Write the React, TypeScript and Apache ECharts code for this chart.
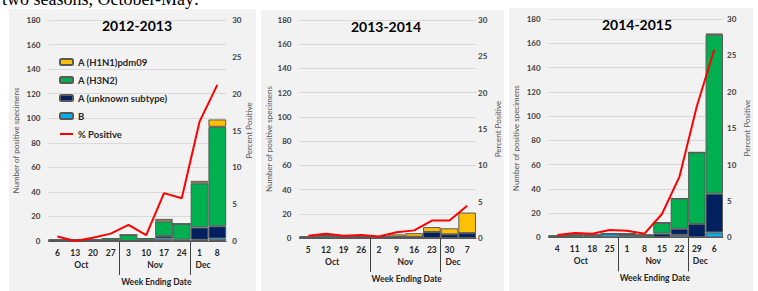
import React, { useEffect, useRef } from "react";
import * as echarts from "echarts";

const seasons = ["2012-2013", "2013-2014", "2014-2015"];
const weeks1 = ["6", "13", "20", "27", "3", "10", "17", "24", "1", "8"];
const weeks2 = ["5", "12", "19", "26", "2", "9", "16", "23", "30", "7"];
const weeks3 = ["4", "11", "18", "25", "1", "8", "15", "22", "29", "6"];

// stacked order bottom -> top
const stackNames = ["B", "A (unknown subtype)", "A (H3N2)", "A (H1N1)pdm09"];
const stackColors = ["#00B0F0", "#002060", "#00B050", "#FFC000"];
const legendOrder = ["A (H1N1)pdm09", "A (H3N2)", "A (unknown subtype)", "B", "% Positive"];

const b1 = [0, 0, 0, 0, 0, 0, 2, 0, 1, 2];
const unk1 = [0, 0, 0, 0, 0, 0, 2, 1, 10, 10];
const h3n2_1 = [1, 1, 1, 2, 5, 2, 12, 13, 36, 81];
const h1n1_1 = [0, 0, 0, 0, 0, 0, 2, 0, 2, 6];
const pct1 = [0.6, 0, 0.45, 1.0, 2.2, 0.8, 6.5, 5.8, 16.2, 21.2];

const b2 = [0, 0, 0, 0, 0, 0, 0, 0, 0, 0];
const unk2 = [0, 0, 0, 0, 1, 1, 1, 5, 3, 4];
const h3n2_2 = [1, 2, 1, 1, 0, 0, 0, 0, 0, 0];
const h1n1_2 = [0, 0, 0, 0, 0, 2, 3, 4, 5, 17];
const pct2 = [0.3, 0.6, 0.3, 0.4, 0.2, 0.8, 1.05, 2.4, 2.4, 4.45];

const b3 = [0, 0, 0, 3, 2, 0, 0, 2, 0, 4];
const unk3 = [1, 0, 0, 0, 0, 0, 3, 5, 11, 32];
const h3n2_3 = [0, 2, 2, 0, 1, 2, 9, 25, 59, 131];
const h1n1_3 = [0, 0, 0, 0, 0, 0, 0, 0, 0, 1];
const pct3 = [0.3, 0.6, 0.5, 1.0, 0.9, 0.5, 3.2, 8.3, 18, 25.8];

const monthLabels = ["Oct", "Nov", "Dec"];
const monthLabelPos = [1.85, 6, 8.7];
const monthBreaks = [4, 8];

const weeks = [weeks1, weeks2, weeks3];
const stacks = [
  [b1, unk1, h3n2_1, h1n1_1],
  [b2, unk2, h3n2_2, h1n1_2],
  [b3, unk3, h3n2_3, h1n1_3],
];
const pcts = [pct1, pct2, pct3];

// layout
const panels = [
  { x: 9, y: 9, w: 247, h: 282 },
  { x: 261, y: 10, w: 243, h: 281 },
  { x: 509, y: 8, w: 244, h: 283 },
];
const grids = [
  { left: 48.5, top: 20, width: 177.7, height: 221 },
  { left: 299.5, top: 20, width: 176.5, height: 218 },
  { left: 548.6, top: 19, width: 174.4, height: 218.3 },
];
const titlePos = [
  [137, 25],
  [386, 26.5],
  [637, 24.5],
];
const rightLabelMargin = [6, 2, 4];
const rightNameGap = [18, 18, 20];
const leftNameGap = [29, 27, 29];

const FONT = 'Lato, "Open Sans", sans-serif';

export default function App() {
  const ref = useRef<HTMLDivElement>(null);
  useEffect(() => {
    if (!ref.current) return;
    const chart = echarts.init(ref.current, null, { renderer: "svg" });
    const xAxis: any[] = [];
    const yAxis: any[] = [];
    const series: any[] = [];
    for (let i = 0; i < 3; i++) {
      xAxis.push({
        type: "category",
        gridIndex: i,
        data: weeks[i],
        position: "bottom",
        axisTick: { show: false },
        axisLine: { onZero: false, lineStyle: { color: "#595959", width: 1 } },
        axisLabel: {
          interval: 0,
          margin: 7,
          fontSize: 8.5,
          fontWeight: "bold",
          color: "#262626",
          fontFamily: FONT,
        },
        splitLine: { show: false },
      });
      xAxis.push({
        type: "value",
        gridIndex: i,
        min: 0,
        max: 10,
        position: "bottom",
        axisLine: { show: false, onZero: false },
        splitLine: { show: false },
        axisTick: {
          show: true,
          customValues: monthBreaks,
          length: 34,
          lineStyle: { color: "#404040", width: 1 },
        },
        axisLabel: {
          customValues: monthLabelPos,
          margin: 19,
          fontSize: 8.5,
          fontWeight: "bold",
          color: "#262626",
          fontFamily: FONT,
          formatter: (v: number) => {
            let best = 0;
            for (let k = 0; k < monthLabelPos.length; k++) {
              if (Math.abs(monthLabelPos[k] - v) < Math.abs(monthLabelPos[best] - v)) best = k;
            }
            return monthLabels[best];
          },
        },
        name: "Week Ending Date",
        nameLocation: "middle",
        nameGap: 36,
        nameTextStyle: {
          fontSize: 8.5,
          fontWeight: "bold",
          color: "#262626",
          fontFamily: FONT,
          padding: [0, 0, 0, 38],
        },
      });
      yAxis.push({
        type: "value",
        gridIndex: i,
        position: "left",
        min: 0,
        max: 180,
        interval: 20,
        axisLine: { show: false },
        axisTick: { show: false },
        splitLine: { lineStyle: { color: "#D9D9D9", width: 1 } },
        axisLabel: { margin: 8, fontSize: 8, fontWeight: "bold", color: "#404040", fontFamily: FONT },
        name: "Number of positive specimens",
        nameLocation: "middle",
        nameGap: leftNameGap[i],
        nameRotate: 90,
        nameTextStyle: { fontSize: 8, color: "#595959", fontFamily: FONT, padding: [0, 20, 0, 0] },
      });
      yAxis.push({
        type: "value",
        gridIndex: i,
        position: "right",
        min: 0,
        max: 30,
        interval: 5,
        axisLine: { show: false },
        axisTick: { show: false },
        splitLine: { show: false },
        axisLabel: {
          margin: rightLabelMargin[i],
          fontSize: 8,
          fontWeight: "bold",
          color: "#404040",
          fontFamily: FONT,
        },
        name: "Percent Positive",
        nameLocation: "middle",
        nameGap: rightNameGap[i],
        nameRotate: 90,
        nameTextStyle: { fontSize: 8, color: "#595959", fontFamily: FONT },
      });
      for (let j = 0; j < 4; j++) {
        series.push({
          type: "bar",
          name: stackNames[j],
          xAxisIndex: 2 * i,
          yAxisIndex: 2 * i,
          stack: "s" + i,
          data: stacks[i][j],
          barCategoryGap: "0%",
          itemStyle: { color: stackColors[j], borderColor: "#595959", borderWidth: 1 },
        });
      }
      series.push({
        type: "line",
        name: "% Positive",
        xAxisIndex: 2 * i,
        yAxisIndex: 2 * i + 1,
        data: pcts[i],
        symbol: "none",
        lineStyle: { color: "#FF0000", width: 2 },
        itemStyle: { color: "#FF0000" },
        z: 5,
      });
    }
    const legendData = legendOrder.map((n) =>
      n === "% Positive"
        ? { name: n, itemStyle: { opacity: 0 }, lineStyle: { color: "#FF0000", width: 2, opacity: 1 } }
        : { name: n }
    );
    chart.setOption({
      animation: false,
      backgroundColor: "transparent",
      textStyle: { fontFamily: FONT },
      grid: grids.map((g) => ({ ...g, containLabel: false, outerBoundsMode: "none" })),
      legend: {
        orient: "vertical",
        left: 59,
        top: 57,
        padding: 0,
        itemWidth: 13,
        itemHeight: 6,
        itemGap: 8,
        data: legendData,
        selectedMode: false,
        textStyle: { fontSize: 9.5, fontWeight: "bold", color: "#262626", fontFamily: FONT },
      },
      graphic: seasons.map((s, i) => ({
        type: "text",
        x: titlePos[i][0],
        y: titlePos[i][1],
        silent: true,
        style: {
          text: s,
          align: "center",
          verticalAlign: "middle",
          fontSize: 14,
          fontWeight: "bold",
          fontFamily: FONT,
          fill: "#000000",
        },
      })),
      xAxis,
      yAxis,
      series,
    });
    return () => chart.dispose();
  }, []);

  return (
    <div
      style={{
        position: "fixed",
        left: 0,
        top: 0,
        width: 758,
        height: 291,
        background: "#ffffff",
        overflow: "hidden",
      }}
    >
      <div
        style={{
          position: "absolute",
          left: 2,
          top: -10,
          fontFamily: '"Liberation Serif", serif',
          fontSize: 18,
          lineHeight: "18px",
          color: "#000",
          whiteSpace: "nowrap",
        }}
      >
        two seasons, October-May:
      </div>
      {panels.map((p, i) => (
        <div
          key={i}
          style={{
            position: "absolute",
            left: p.x,
            top: p.y,
            width: p.w,
            height: p.h,
            background: "#F2F2F2",
          }}
        />
      ))}
      <div ref={ref} style={{ position: "absolute", left: 0, top: 0, width: 758, height: 291 }} />
    </div>
  );
}
